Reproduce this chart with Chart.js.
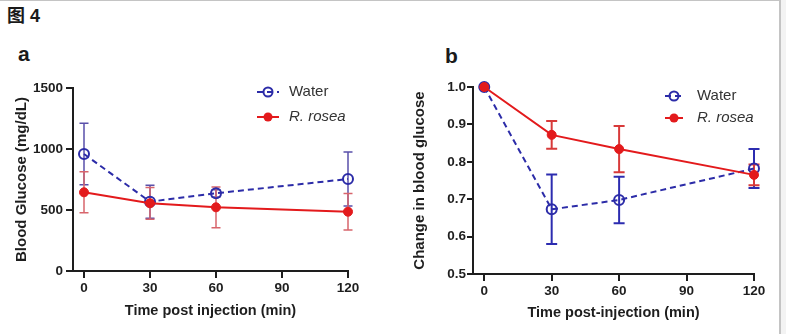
<!DOCTYPE html>
<html lang="zh">
<head>
  <meta charset="UTF-8" />
  <title>图 4</title>
  <script src="https://cdn.jsdelivr.net/npm/chart.js"></script>
  <style>
    body {
      margin: 0;
      width: 786px;
      height: 334px;
      background: #fff;
      position: relative;
      overflow: hidden;
      font-family: "Liberation Sans", Arial, sans-serif;
      color: #1a1a1a;
    }
    .frame-top { position: absolute; left: 0; top: 0; width: 781px; height: 1px; background: #c4c4c4; z-index: 5; }
    .frame-right { position: absolute; left: 779px; top: 0; width: 2px; height: 334px; background: #c4c4c4; z-index: 5; }
    .shade { position: absolute; left: 781px; top: 0; width: 5px; height: 334px; background: #f3f3f3; z-index: 5; }
    .fig-title {
      position: absolute; left: 7px; top: 7px;
      font-size: 18px; line-height: 18px; font-weight: bold;
      font-family: "Liberation Sans", "Noto Sans CJK SC", sans-serif;
    }
    .panel-label { position: absolute; font-size: 21px; line-height: 21px; font-weight: bold; }
    .panel { position: absolute; top: 40px; }
  </style>
</head>
<body>
  <div class="fig-title">图 4</div>
  <div class="panel-label" style="left:18px; top:43px;">a</div>
  <div class="panel-label" style="left:445px; top:45px;">b</div>

  <canvas class="panel" id="chartA" width="390" height="294" style="left:0px;"></canvas>
  <canvas class="panel" id="chartB" width="396" height="294" style="left:390px;"></canvas>

  <div class="frame-top"></div>
  <div class="frame-right"></div>
  <div class="shade"></div>

  <script>
    // data
    const seriesNames = ['Water', 'R. rosea'];
    const timePoints = [0, 30, 60, 120];
    const xTicks = [0, 30, 60, 90, 120];

    // panel a: blood glucose (mg/dL), mean and error
    const glucoseWater = [959, 568, 637, 754];
    const glucoseWaterErr = [252, 135, 30, 221];
    const glucoseRosea = [645, 555, 522, 486];
    const glucoseRoseaErr = [168, 130, 167, 150];
    const yTicksA = [0, 500, 1000, 1500];

    // panel b: change in blood glucose
    const changeWater = [1.0, 0.673, 0.698, 0.782];
    const changeWaterErr = [0, 0.093, 0.062, 0.052];
    const changeRosea = [1.0, 0.872, 0.834, 0.765];
    const changeRoseaErr = [0, 0.037, 0.062, 0.028];
    const yTicksB = [0.5, 0.6, 0.7, 0.8, 0.9, 1.0];

    const BLUE = '#2c2ca8';
    const RED = '#e31a1c';
    const INK = '#1e1e1e';
    const FONT = '"Liberation Sans", Arial, sans-serif';

    // vertical error bars with caps, drawn under the lines
    const errorBars = {
      id: 'errorBars',
      beforeDatasetsDraw(chart, args, opts) {
        const ctx = chart.ctx;
        const xs = chart.scales.x, ys = chart.scales.y;
        chart.data.datasets.forEach((ds, i) => {
          const errs = opts.errors[i];
          ctx.save();
          ctx.strokeStyle = opts.colors[i];
          ctx.lineWidth = opts.width;
          ds.data.forEach((p, j) => {
            if (!errs[j]) return;
            const x = xs.getPixelForValue(p.x);
            const y1 = ys.getPixelForValue(p.y + errs[j]);
            const y2 = ys.getPixelForValue(p.y - errs[j]);
            ctx.beginPath();
            ctx.moveTo(x, y1); ctx.lineTo(x, y2);
            ctx.moveTo(x - opts.cap, y1); ctx.lineTo(x + opts.cap, y1);
            ctx.moveTo(x - opts.cap, y2); ctx.lineTo(x + opts.cap, y2);
            ctx.stroke();
          });
          ctx.restore();
        });
      }
    };

    // small legend inside the plot, top right
    const boxLegend = {
      id: 'boxLegend',
      afterDraw(chart, args, opts) {
        const ctx = chart.ctx;
        chart.data.datasets.forEach((ds, i) => {
          const y = opts.y + i * opts.gap;
          const cx = opts.x + opts.len / 2;
          ctx.save();
          ctx.strokeStyle = ds.borderColor;
          ctx.lineWidth = 2;
          ctx.setLineDash(ds.borderDash || []);
          ctx.beginPath();
          ctx.moveTo(opts.x, y); ctx.lineTo(opts.x + opts.len, y);
          ctx.stroke();
          ctx.setLineDash([]);
          ctx.beginPath();
          ctx.arc(cx, y, 4.5, 0, Math.PI * 2);
          if (ds.pointBackgroundColor === 'transparent') ctx.stroke();
          else { ctx.fillStyle = ds.borderColor; ctx.fill(); }
          ctx.fillStyle = '#333';
          ctx.font = (i === 1 ? 'italic ' : '') + '15px ' + FONT;
          ctx.textBaseline = 'middle';
          ctx.fillText(ds.label, opts.textX, y);
          ctx.restore();
        });
      }
    };

    function series(values, i, color) {
      const open = i === 0;
      return {
        label: seriesNames[i],
        data: timePoints.map((t, k) => ({ x: t, y: values[k] })),
        borderColor: color,
        borderWidth: 2,
        borderDash: open ? [6, 4] : [],
        pointRadius: open ? 5 : 4.5,
        pointBorderWidth: open ? 2 : 1,
        pointBorderColor: color,
        pointBackgroundColor: open ? 'transparent' : color,
        tension: 0,
        fill: false,
        clip: false,
        order: open ? 2 : 1
      };
    }

    function axisBase(tickLen) {
      return {
        type: 'linear',
        grid: { drawOnChartArea: false, color: INK, lineWidth: 2, tickLength: tickLen },
        border: { display: true, color: INK, width: 2 },
        ticks: { color: INK, font: { family: FONT, size: 13.5, weight: 'bold' }, maxRotation: 0 }
      };
    }

    function makeChart(id, cfg) {
      const x = axisBase(7);
      x.min = -5; x.max = 120;
      x.afterBuildTicks = s => { s.ticks = xTicks.map(v => ({ value: v })); };
      x.afterFit = s => { s.height = cfg.xHeight; };
      x.ticks.padding = 2;
      x.title = { display: true, text: cfg.xTitle, color: INK, font: { family: FONT, size: 14.5, weight: 'bold' } };

      const y = axisBase(cfg.yTickLen);
      y.min = cfg.yTicks[0]; y.max = cfg.yTicks[cfg.yTicks.length - 1];
      y.afterBuildTicks = s => { s.ticks = cfg.yTicks.map(v => ({ value: v })); };
      y.afterFit = s => { s.width = cfg.yWidth; };
      y.ticks.padding = cfg.yPad;
      y.ticks.callback = cfg.yFormat;
      y.title = { display: true, text: cfg.yTitle, color: INK, font: { family: FONT, size: 15, weight: 'bold' } };

      return new Chart(document.getElementById(id), {
        type: 'line',
        data: {
          datasets: [
            series(cfg.water, 0, BLUE),
            series(cfg.rosea, 1, RED)
          ]
        },
        options: {
          responsive: false,
          animation: false,
          layout: { padding: cfg.padding },
          scales: { x: x, y: y },
          plugins: {
            legend: { display: false },
            tooltip: { enabled: false },
            errorBars: { errors: cfg.errors, colors: cfg.errColors, width: cfg.errWidth, cap: cfg.cap },
            boxLegend: cfg.legend
          }
        },
        plugins: [errorBars, boxLegend]
      });
    }

    makeChart('chartA', {
      water: glucoseWater, rosea: glucoseRosea,
      errors: [glucoseWaterErr, glucoseRoseaErr],
      errColors: ['#5a50aa', '#d8656c'], errWidth: 1.5, cap: 4.5,
      yTicks: yTicksA, yFormat: v => String(v),
      yTickLen: 7, yPad: 3, yWidth: 64, xHeight: 53,
      xTitle: 'Time post injection (min)', yTitle: 'Blood Glucose (mg/dL)',
      padding: { top: 48, right: 42, left: 9, bottom: 10 },
      legend: { x: 257, y: 52, gap: 25, len: 22, textX: 289 }
    });

    makeChart('chartB', {
      water: changeWater, rosea: changeRosea,
      errors: [changeWaterErr, changeRoseaErr],
      errColors: ['#2c2cb0', '#d83a3a'], errWidth: 2, cap: 5.5,
      yTicks: yTicksB, yFormat: v => v.toFixed(1),
      yTickLen: 6, yPad: 1, yWidth: 66, xHeight: 52,
      xTitle: 'Time post-injection (min)', yTitle: 'Change in blood glucose',
      padding: { top: 47, right: 32, left: 17, bottom: 8 },
      legend: { x: 275, y: 56, gap: 22, len: 18, textX: 307 }
    });
  </script>
</body>
</html>
